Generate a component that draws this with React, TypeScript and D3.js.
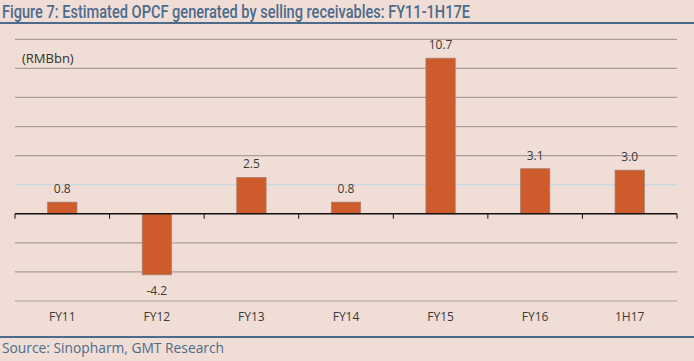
import React from "react";
import * as d3 from "d3";

const categories = ["FY11", "FY12", "FY13", "FY14", "FY15", "FY16", "1H17"];
const values = [0.8, -4.2, 2.5, 0.8, 10.7, 3.1, 3.0];
const valueLabels = ["0.8", "-4.2", "2.5", "0.8", "10.7", "3.1", "3.0"];
const gridTicks = [-6, -4, -2, 2, 4, 6, 8, 10, 12];

const W = 694;
const H = 361;

const App = () => {
  const left = 15;
  const right = 677;

  const x = d3
    .scaleBand<string>()
    .domain(categories)
    .range([left, right])
    .paddingInner(0.69)
    .paddingOuter(0.345);

  // band edges for the tick marks
  const step = (right - left) / categories.length;
  const tickXs = d3.range(categories.length + 1).map((i) => left + i * step);

  const y = d3.scaleLinear().domain([-6, 12]).range([301, 39.3]);

  const font = "'Open Sans', 'DejaVu Sans', sans-serif";
  const titleFont = "Roboto, 'Open Sans', sans-serif";

  return (
    <div style={{ position: "fixed", left: 0, top: 0 }}>
      <svg width={W} height={H} style={{ display: "block" }}>
        <rect x={0} y={0} width={W} height={H} fill="#f0ddd5" />

        {/* title */}
        <text
          x={2}
          y={18}
          fontFamily={titleFont}
          fontSize={19}
          fontWeight={500}
          fill="#4c6b8c"
          textLength={468}
          lengthAdjust="spacingAndGlyphs"
        >
          Figure 7: Estimated OPCF generated by selling receivables: FY11-1H17E
        </text>
        <line x1={0} x2={W} y1={23} y2={23} stroke="#4c6b8c" strokeWidth={2.2} />

        {/* gridlines */}
        {gridTicks.map((t) => (
          <line
            key={t}
            x1={left}
            x2={right}
            y1={y(t)}
            y2={y(t)}
            stroke={t === 2 ? "#c9d7e3" : "#a89f9b"}
            strokeWidth={1.2}
          />
        ))}

        <text x={22} y={63} fontFamily={font} fontSize={13} fill="#333">
          (RMBbn)
        </text>

        {/* bars */}
        {categories.map((c, i) => {
          const v = values[i];
          const y0 = y(Math.max(0, v));
          const h = Math.abs(y(v) - y(0));
          return (
            <rect
              key={c}
              x={x(c)}
              y={y0}
              width={x.bandwidth()}
              height={h}
              fill="#cd5b2b"
              stroke="#a8826e"
              strokeWidth={0.8}
            />
          );
        })}

        {/* value labels */}
        {categories.map((c, i) => {
          const v = values[i];
          const cx = (x(c) as number) + x.bandwidth() / 2;
          const ty = v >= 0 ? y(v) - 9 : y(v) + 20;
          return (
            <text
              key={c}
              x={cx}
              y={ty}
              textAnchor="middle"
              fontFamily={font}
              fontSize={12}
              fill="#3a3a3a"
            >
              {valueLabels[i]}
            </text>
          );
        })}

        {/* zero axis */}
        <line x1={left} x2={right} y1={y(0)} y2={y(0)} stroke="#111" strokeWidth={1.3} />
        {tickXs.map((tx, i) => (
          <line key={i} x1={tx} x2={tx} y1={y(0)} y2={y(0) + 5} stroke="#111" strokeWidth={1} />
        ))}

        {/* category labels */}
        {categories.map((c) => (
          <text
            key={c}
            x={(x(c) as number) + x.bandwidth() / 2}
            y={321}
            textAnchor="middle"
            fontFamily={font}
            fontSize={12}
            fill="#3a3a3a"
          >
            {c}
          </text>
        ))}

        {/* source */}
        <line x1={0} x2={W} y1={337} y2={337} stroke="#4c6b8c" strokeWidth={2.2} />
        <text
          x={2}
          y={353}
          fontFamily={font}
          fontSize={14}
          fill="#4c6b8c"
          textLength={222}
          lengthAdjust="spacingAndGlyphs"
        >
          Source: Sinopharm, GMT Research
        </text>
      </svg>
    </div>
  );
};

export default App;
